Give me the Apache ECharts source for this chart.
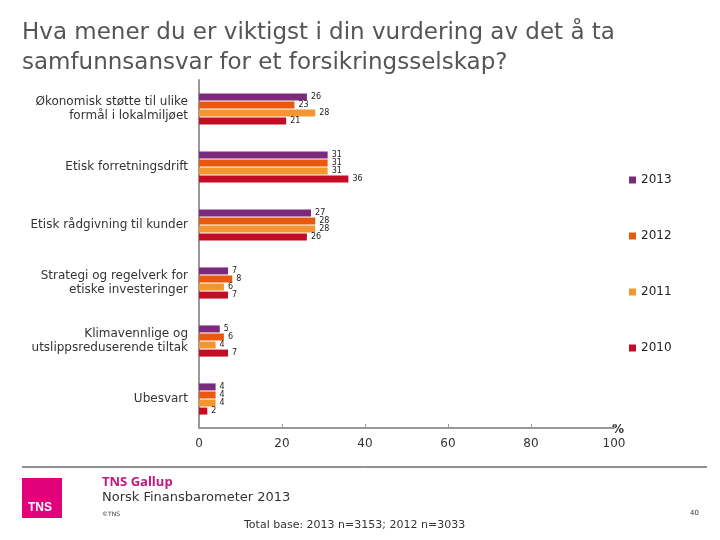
<!DOCTYPE html>
<html><head><meta charset="utf-8">
<script src="https://cdn.jsdelivr.net/npm/echarts@6/dist/echarts.min.js"></script>
<style>html,body{margin:0;padding:0;background:#fff}#c{width:720px;height:540px}</style>
</head><body><div id="c"></div>
<script>
const categories = ["Økonomisk støtte til ulike\nformål i lokalmiljøet","Etisk forretningsdrift","Etisk rådgivning til kunder","Strategi og regelverk for\netiske investeringer","Klimavennlige og\nutslippsreduserende tiltak","Ubesvart"];
const v2013 = [26,31,27,7,5,4];
const v2012 = [23,31,28,8,6,4];
const v2011 = [28,31,28,6,4,4];
const v2010 = [21,36,26,7,7,2];
const xTicks = [0,20,40,60,80,100];
const seriesNames = ["2013","2012","2011","2010"];
const colors = ["#7b2a7c","#e9580f","#f39630","#c20d25"];
const data = [v2013,v2012,v2011,v2010];
const chart = echarts.init(document.getElementById('c'));
const font = 'Verdana, "DejaVu Sans", sans-serif';
chart.setOption({
  animation:false,
  textStyle:{fontFamily:font},
  title:{text:"Hva mener du er viktigst i din vurdering av det å ta\nsamfunnsansvar for et forsikringsselskap?",left:17,top:13,
    textStyle:{fontSize:23,fontWeight:'normal',color:'#555',lineHeight:30,fontFamily:'"DejaVu Sans", sans-serif'}},
  legend:{orient:'vertical',left:624,top:169,itemGap:44,itemWidth:7,itemHeight:7,icon:'rect',
    data:seriesNames,textStyle:{fontSize:12,color:'#222',fontFamily:font}},
  grid:{left:199,right:106,top:80,bottom:112},
  xAxis:{type:'value',min:0,max:100,interval:20,
    axisLine:{show:true,lineStyle:{color:'#999',width:2}},
    axisTick:{show:true,inside:true,length:4,lineStyle:{color:'#999'}},
    splitLine:{show:false},
    axisLabel:{fontSize:12,color:'#333',margin:10,fontFamily:font},
    name:'%',nameGap:-2,nameTextStyle:{fontSize:12,fontWeight:'bold',color:'#333',verticalAlign:'bottom',padding:[0,0,-8,0]}},
  yAxis:{type:'category',inverse:true,data:categories,
    axisLine:{show:true,lineStyle:{color:'#999',width:2}},
    axisTick:{show:false},
    axisLabel:{fontSize:12,color:'#333',margin:11,lineHeight:14,fontFamily:font}},
  series:data.map((d,i)=>({
    name:seriesNames[i],type:'bar',data:d,barWidth:7,barGap:'15%',
    itemStyle:{color:colors[i]},
    label:{show:true,position:'right',distance:4,fontSize:8,color:'#222',fontFamily:font}
  })),
  graphic:[
    {type:'line',shape:{x1:22,y1:467,x2:707,y2:467},style:{stroke:'#222',lineWidth:1}},
    {type:'rect',shape:{x:22,y:478,width:40,height:40},style:{fill:'#e2007a'}},
    {type:'text',left:28,top:502,style:{text:'TNS',fill:'#fff',font:'bold 12px Arial, "Liberation Sans", sans-serif'}},
    {type:'text',left:102,top:476,style:{text:'TNS Gallup',fill:'#c3177e',font:'bold 13px "Open Sans", Arial, sans-serif'}},
    {type:'text',left:102,top:491,style:{text:'Norsk Finansbarometer 2013',fill:'#333',font:'13px Verdana, "DejaVu Sans", sans-serif'}},
    {type:'text',left:102,top:511,style:{text:'©TNS',fill:'#333',font:'6px Verdana, "DejaVu Sans", sans-serif'}},
    {type:'text',left:690,top:510,style:{text:'40',fill:'#333',font:'7px Verdana, "DejaVu Sans", sans-serif'}},
    {type:'text',left:244,top:520,style:{text:'Total base: 2013 n=3153; 2012 n=3033',fill:'#333',font:'11px Verdana, "DejaVu Sans", sans-serif'}}
  ]
});
</script></body></html>
